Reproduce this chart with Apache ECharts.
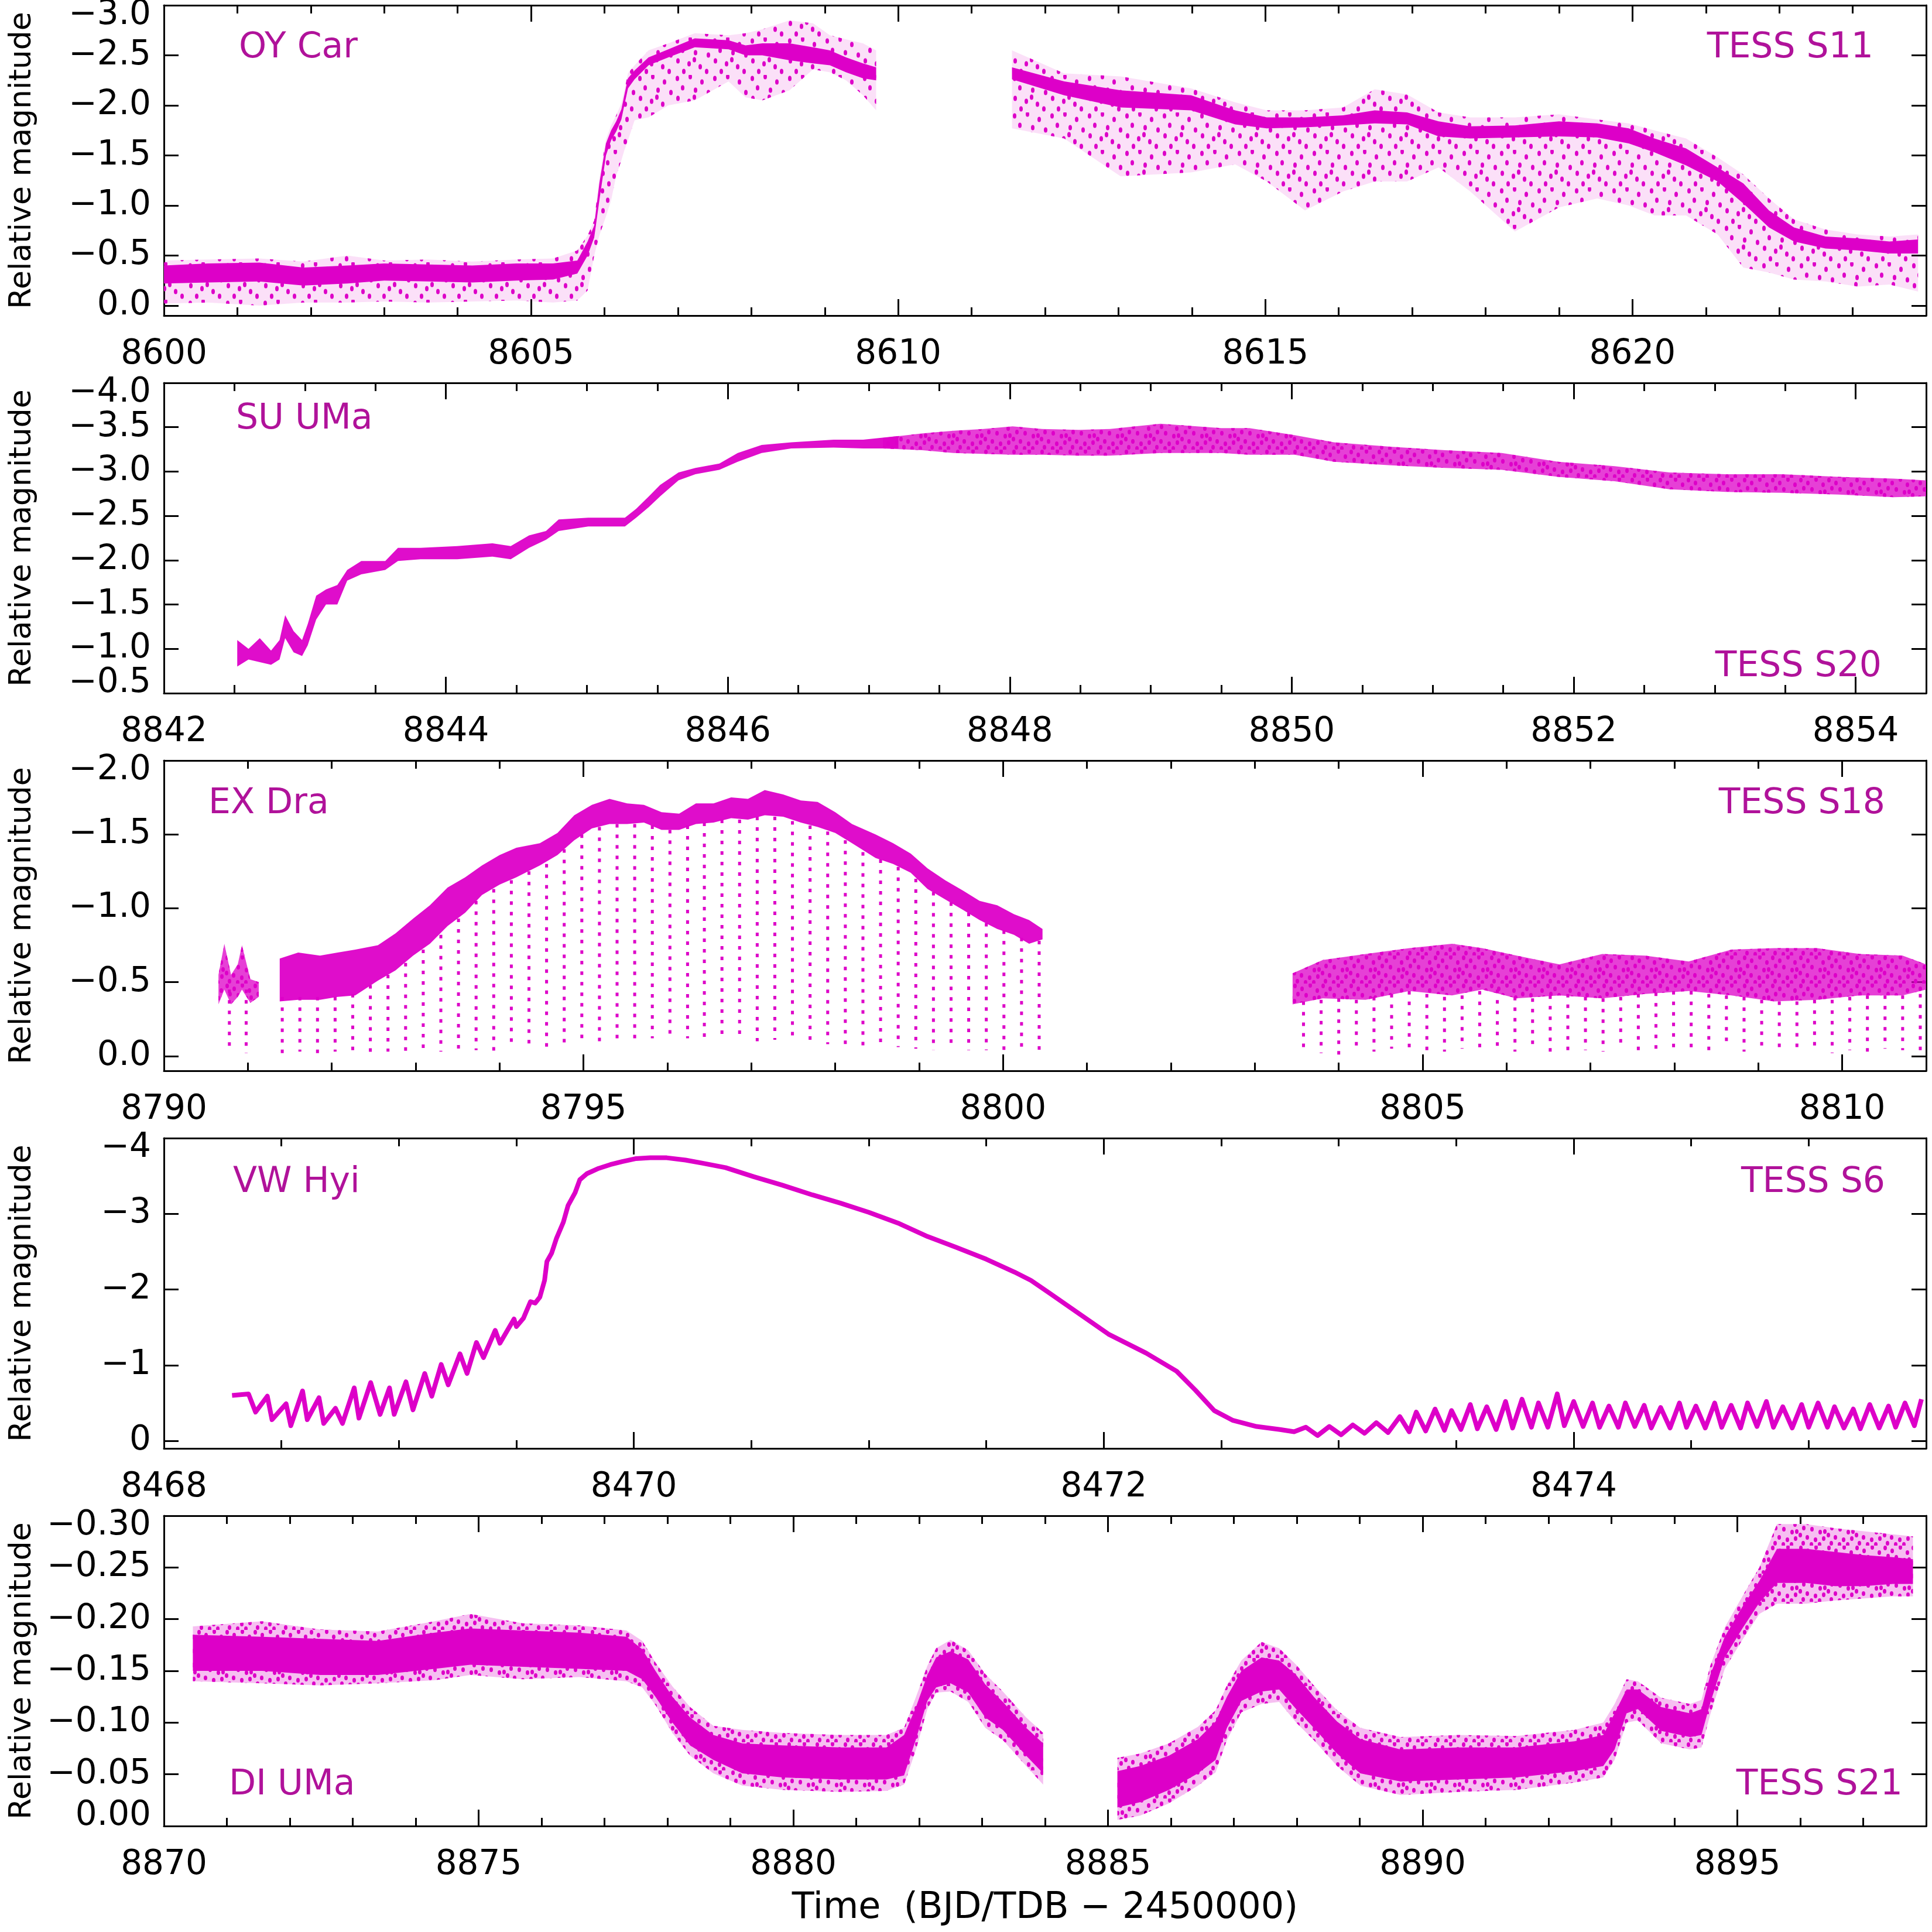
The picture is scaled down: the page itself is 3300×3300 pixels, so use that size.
<!DOCTYPE html>
<html><head><meta charset="utf-8">
<script src="https://cdn.jsdelivr.net/npm/echarts@6/dist/echarts.min.js"></script>
<style>html,body{margin:0;padding:0;background:#fff}#c{width:3300px;height:3300px}</style>
</head><body><div id="c"></div>
<script>
// ---------------- DATA ----------------
// Panel 1: OY Car (TESS S11)
const p1XMajor = [8600, 8605, 8610, 8615, 8620];
const p1XMinor = [8601, 8602, 8603, 8604, 8606, 8607, 8608, 8609, 8611, 8612, 8613, 8614, 8616, 8617, 8618, 8619, 8621, 8622, 8623];
const p1YTicks = [-3.0, -2.5, -2.0, -1.5, -1.0, -0.5, 0.0];
const p1aX = [8600.0, 8600.6, 8601.3, 8601.9, 8602.5, 8603.0, 8603.6, 8604.2, 8604.8, 8605.3, 8605.63, 8605.77, 8605.86, 8605.93, 8606.02, 8606.09, 8606.16, 8606.23, 8606.27, 8606.32, 8606.41, 8606.60, 8606.87, 8607.23, 8607.69, 8607.92, 8608.15, 8608.52, 8608.84, 8609.07, 8609.29, 8609.52, 8609.70];
const p1aCoreTop = [-0.40, -0.42, -0.43, -0.38, -0.40, -0.42, -0.41, -0.40, -0.42, -0.42, -0.45, -0.64, -0.80, -1.22, -1.62, -1.75, -1.84, -1.96, -2.10, -2.27, -2.35, -2.48, -2.56, -2.67, -2.65, -2.60, -2.62, -2.62, -2.58, -2.55, -2.48, -2.42, -2.38];
const p1aCoreBot = [-0.22, -0.23, -0.24, -0.20, -0.22, -0.25, -0.24, -0.23, -0.25, -0.26, -0.32, -0.50, -0.68, -1.05, -1.50, -1.65, -1.74, -1.86, -2.00, -2.17, -2.26, -2.40, -2.48, -2.58, -2.56, -2.50, -2.50, -2.45, -2.42, -2.40, -2.33, -2.27, -2.25];
const p1aHazeTop = [-0.45, -0.46, -0.47, -0.44, -0.50, -0.45, -0.46, -0.44, -0.46, -0.47, -0.55, -0.70, -0.85, -1.27, -1.66, -1.80, -1.90, -2.02, -2.15, -2.32, -2.40, -2.55, -2.62, -2.72, -2.70, -2.72, -2.76, -2.85, -2.82, -2.70, -2.66, -2.62, -2.55];
const p1aHazeBot = [-0.02, -0.03, 0.0, -0.03, -0.03, -0.04, -0.03, -0.04, -0.05, -0.03, -0.05, -0.15, -0.50, -0.70, -0.89, -1.05, -1.30, -1.45, -1.55, -1.65, -1.85, -1.88, -2.00, -2.05, -2.24, -2.08, -2.05, -2.15, -2.36, -2.33, -2.25, -2.10, -1.95];
const p1bX = [8611.55, 8612.26, 8613.03, 8613.99, 8614.59, 8615.02, 8615.54, 8616.06, 8616.49, 8616.93, 8617.36, 8617.79, 8618.40, 8619.00, 8619.52, 8619.95, 8620.30, 8620.73, 8621.16, 8621.51, 8621.86, 8622.20, 8622.63, 8623.07, 8623.50, 8623.89];
const p1bCoreTop = [-2.38, -2.24, -2.15, -2.10, -1.95, -1.88, -1.88, -1.90, -1.95, -1.93, -1.84, -1.79, -1.80, -1.84, -1.82, -1.77, -1.67, -1.57, -1.38, -1.22, -0.95, -0.78, -0.69, -0.67, -0.64, -0.66];
const p1bCoreBot = [-2.26, -2.10, -1.98, -1.95, -1.81, -1.77, -1.78, -1.80, -1.82, -1.81, -1.69, -1.67, -1.68, -1.69, -1.68, -1.62, -1.53, -1.40, -1.24, -1.02, -0.78, -0.64, -0.57, -0.55, -0.52, -0.52];
const p1bHazeTop = [-2.55, -2.32, -2.29, -2.17, -2.03, -1.95, -1.95, -1.98, -2.16, -2.11, -1.93, -1.88, -1.88, -1.91, -1.86, -1.82, -1.75, -1.67, -1.48, -1.31, -1.07, -0.86, -0.76, -0.71, -0.69, -0.71];
const p1bHazeBot = [-1.77, -1.67, -1.29, -1.33, -1.41, -1.24, -0.95, -1.14, -1.24, -1.24, -1.38, -1.14, -0.74, -0.98, -1.07, -1.00, -0.90, -0.90, -0.71, -0.38, -0.33, -0.26, -0.24, -0.19, -0.21, -0.14];

// Panel 2: SU UMa (TESS S20)
const p2XMajor = [8842, 8844, 8846, 8848, 8850, 8852, 8854];
const p2XMinor = [8842.5, 8843, 8843.5, 8844.5, 8845, 8845.5, 8846.5, 8847, 8847.5, 8848.5, 8849, 8849.5, 8850.5, 8851, 8851.5, 8852.5, 8853, 8853.5];
const p2YTicks = [-4.0, -3.5, -3.0, -2.5, -2.0, -1.5, -1.0, -0.5];
const p2rX = [8842.52, 8842.60, 8842.68, 8842.76, 8842.82, 8842.86, 8842.92, 8842.98, 8843.02, 8843.08, 8843.15, 8843.23, 8843.30, 8843.40, 8843.57, 8843.66, 8843.82, 8844.08, 8844.33, 8844.46, 8844.59, 8844.71, 8844.80, 8845.01, 8845.27, 8845.35, 8845.44, 8845.52, 8845.65, 8845.77, 8845.94, 8846.07, 8846.24, 8846.45, 8846.75, 8846.96, 8847.21];
const p2rTop = [-1.10, -1.00, -1.12, -0.98, -1.10, -1.38, -1.20, -1.10, -1.28, -1.60, -1.67, -1.72, -1.89, -1.99, -1.99, -2.14, -2.14, -2.16, -2.19, -2.16, -2.28, -2.33, -2.46, -2.48, -2.48, -2.58, -2.72, -2.85, -2.99, -3.04, -3.09, -3.21, -3.30, -3.33, -3.36, -3.36, -3.40];
const p2rBot = [-0.80, -0.88, -0.85, -0.82, -0.88, -1.12, -0.96, -0.92, -1.04, -1.33, -1.50, -1.50, -1.77, -1.84, -1.89, -1.99, -2.01, -2.01, -2.04, -2.01, -2.14, -2.23, -2.33, -2.38, -2.38, -2.48, -2.60, -2.72, -2.90, -2.97, -3.02, -3.11, -3.21, -3.26, -3.27, -3.26, -3.26];
const p2hX = [8847.10, 8847.38, 8847.60, 8847.81, 8848.02, 8848.23, 8848.49, 8848.71, 8849.07, 8849.50, 8849.70, 8850.02, 8850.30, 8850.70, 8851.09, 8851.49, 8851.89, 8852.29, 8852.68, 8853.08, 8853.48, 8853.88, 8854.27, 8854.50];
const p2hTop = [-3.38, -3.43, -3.46, -3.48, -3.51, -3.48, -3.47, -3.48, -3.54, -3.49, -3.49, -3.41, -3.33, -3.28, -3.24, -3.21, -3.11, -3.06, -2.99, -2.97, -2.97, -2.94, -2.92, -2.90];
const p2hBot = [-3.26, -3.24, -3.21, -3.20, -3.19, -3.19, -3.18, -3.18, -3.21, -3.21, -3.19, -3.19, -3.11, -3.07, -3.04, -3.02, -2.94, -2.89, -2.80, -2.77, -2.76, -2.74, -2.71, -2.72];

// Panel 3: EX Dra (TESS S18)
const p3XMajor = [8790, 8795, 8800, 8805, 8810];
const p3XMinor = [8791, 8792, 8793, 8794, 8796, 8797, 8798, 8799, 8801, 8802, 8803, 8804, 8806, 8807, 8808, 8809];
const p3YTicks = [-2.0, -1.5, -1.0, -0.5, 0.0];
const p3aX = [8790.65, 8790.72, 8790.80, 8790.88, 8790.93, 8791.03, 8791.13];
const p3aTop = [-0.55, -0.76, -0.55, -0.62, -0.75, -0.52, -0.50];
const p3aBot = [-0.35, -0.45, -0.35, -0.40, -0.45, -0.36, -0.40];
const p3bX = [8791.38, 8791.60, 8791.86, 8792.07, 8792.28, 8792.55, 8792.76, 8792.97, 8793.17, 8793.38, 8793.59, 8793.79, 8794.00, 8794.20, 8794.48, 8794.69, 8794.89, 8795.10, 8795.31, 8795.52, 8795.72, 8795.93, 8796.14, 8796.34, 8796.55, 8796.76, 8796.96, 8797.16, 8797.38, 8797.59, 8797.79, 8798.00, 8798.20, 8798.48, 8798.69, 8798.90, 8799.10, 8799.31, 8799.52, 8799.72, 8799.93, 8800.13, 8800.31, 8800.47];
const p3bTop = [-0.66, -0.70, -0.68, -0.70, -0.72, -0.75, -0.83, -0.93, -1.02, -1.14, -1.21, -1.29, -1.36, -1.41, -1.44, -1.51, -1.63, -1.70, -1.74, -1.71, -1.70, -1.65, -1.64, -1.71, -1.71, -1.75, -1.74, -1.80, -1.77, -1.73, -1.72, -1.65, -1.57, -1.50, -1.44, -1.37, -1.27, -1.19, -1.12, -1.05, -1.02, -0.96, -0.92, -0.86];
const p3bBot = [-0.37, -0.38, -0.38, -0.40, -0.41, -0.51, -0.58, -0.68, -0.76, -0.88, -0.97, -1.09, -1.16, -1.21, -1.29, -1.36, -1.46, -1.54, -1.57, -1.57, -1.58, -1.53, -1.53, -1.57, -1.58, -1.61, -1.60, -1.63, -1.62, -1.58, -1.55, -1.51, -1.44, -1.34, -1.30, -1.24, -1.13, -1.06, -0.99, -0.92, -0.86, -0.82, -0.76, -0.79];
const p3cX = [8803.45, 8803.81, 8804.32, 8804.84, 8805.35, 8805.71, 8806.12, 8806.63, 8807.14, 8807.65, 8808.17, 8808.68, 8809.19, 8809.70, 8810.21, 8810.72, 8811.00];
const p3cTop = [-0.56, -0.65, -0.69, -0.73, -0.76, -0.73, -0.68, -0.62, -0.69, -0.68, -0.64, -0.72, -0.73, -0.73, -0.69, -0.68, -0.62];
const p3cBot = [-0.35, -0.39, -0.38, -0.44, -0.41, -0.45, -0.39, -0.41, -0.39, -0.42, -0.44, -0.41, -0.37, -0.38, -0.41, -0.41, -0.45];
const p3EclT = [8790.78, 8790.98,
  8791.41, 8791.62, 8791.83, 8792.04, 8792.25, 8792.46, 8792.67, 8792.88, 8793.09, 8793.30, 8793.51, 8793.72, 8793.93, 8794.14, 8794.35, 8794.56, 8794.77, 8794.98, 8795.19, 8795.40, 8795.61, 8795.82, 8796.03, 8796.24, 8796.44, 8796.65, 8796.86, 8797.07, 8797.28, 8797.49, 8797.70, 8797.91, 8798.12, 8798.33, 8798.54, 8798.75, 8798.96, 8799.17, 8799.38, 8799.59, 8799.80, 8800.01, 8800.22, 8800.43,
  8803.58, 8803.79, 8804.00, 8804.21, 8804.42, 8804.63, 8804.84, 8805.05, 8805.26, 8805.47, 8805.68, 8805.89, 8806.10, 8806.31, 8806.52, 8806.73, 8806.94, 8807.15, 8807.36, 8807.57, 8807.78, 8807.99, 8808.20, 8808.41, 8808.62, 8808.83, 8809.04, 8809.25, 8809.46, 8809.67, 8809.88, 8810.09, 8810.30, 8810.51, 8810.72, 8810.93];
const p3EclTop = [-0.45, -0.45,
  -0.40, -0.40, -0.40, -0.40, -0.42, -0.48, -0.55, -0.63, -0.72, -0.82, -0.93, -1.05, -1.13, -1.19, -1.25, -1.30, -1.40, -1.50, -1.55, -1.57, -1.57, -1.56, -1.53, -1.56, -1.58, -1.60, -1.60, -1.62, -1.62, -1.59, -1.56, -1.52, -1.46, -1.38, -1.33, -1.28, -1.20, -1.11, -1.04, -0.97, -0.90, -0.85, -0.80, -0.78,
  -0.37, -0.38, -0.39, -0.38, -0.40, -0.42, -0.44, -0.42, -0.40, -0.41, -0.44, -0.45, -0.40, -0.39, -0.41, -0.42, -0.40, -0.39, -0.40, -0.42, -0.43, -0.44, -0.44, -0.42, -0.41, -0.40, -0.38, -0.37, -0.37, -0.38, -0.38, -0.40, -0.41, -0.41, -0.41, -0.42];
const p3EclMin = [-0.04, -0.02,
  -0.01, -0.03, -0.02, -0.03, -0.03, -0.02, -0.03, -0.02, -0.02, -0.03, -0.03, -0.04, -0.03, -0.05, -0.05, -0.06, -0.06, -0.08, -0.08, -0.11, -0.11, -0.12, -0.12, -0.12, -0.12, -0.14, -0.12, -0.10, -0.11, -0.10, -0.10, -0.08, -0.08, -0.07, -0.07, -0.06, -0.05, -0.04, -0.06, -0.04, -0.04, -0.02, -0.05, -0.03,
  -0.04, -0.02, -0.01, -0.04, -0.03, -0.05, -0.02, -0.04, -0.03, -0.05, -0.02, -0.04, -0.03, -0.05, -0.01, -0.03, -0.04, -0.03, -0.05, -0.03, -0.04, -0.05, -0.02, -0.04, -0.06, -0.03, -0.04, -0.02, -0.03, -0.05, -0.02, -0.04, -0.03, -0.05, -0.04, -0.03];

// Panel 4: VW Hyi (TESS S6)
const p4XMajor = [8468, 8470, 8472, 8474];
const p4XMinor = [8468.5, 8469, 8469.5, 8470.5, 8471, 8471.5, 8472.5, 8473, 8473.5, 8474.5, 8475];
const p4YTicks = [-4, -3, -2, -1, 0];
const p4X = [8468.29, 8468.36, 8468.39, 8468.44, 8468.46, 8468.52, 8468.54, 8468.59, 8468.61, 8468.66, 8468.68, 8468.73, 8468.76, 8468.81, 8468.83, 8468.88, 8468.92, 8468.96, 8468.98, 8469.03, 8469.06, 8469.11, 8469.14, 8469.18, 8469.21, 8469.26, 8469.29, 8469.33, 8469.36, 8469.41, 8469.43, 8469.49, 8469.50, 8469.53, 8469.56, 8469.58, 8469.60, 8469.62, 8469.63, 8469.65, 8469.67, 8469.70, 8469.72, 8469.75, 8469.77, 8469.80, 8469.85, 8469.90, 8469.95, 8470.01, 8470.07, 8470.14, 8470.22, 8470.29, 8470.39, 8470.51, 8470.63, 8470.76, 8470.88, 8471.00, 8471.13, 8471.25, 8471.37, 8471.50, 8471.62, 8471.69, 8471.77, 8472.02, 8472.18, 8472.31, 8472.39, 8472.47, 8472.55, 8472.65, 8472.75, 8472.81, 8472.86, 8472.91, 8472.96, 8473.01, 8473.06, 8473.11, 8473.16, 8473.21,
  8473.26, 8473.30, 8473.33, 8473.37, 8473.41, 8473.45, 8473.48, 8473.52, 8473.56, 8473.59, 8473.63, 8473.67, 8473.71, 8473.74, 8473.78, 8473.82, 8473.85, 8473.89, 8473.93, 8473.96, 8474.00, 8474.04, 8474.08, 8474.11, 8474.15, 8474.19, 8474.22, 8474.26, 8474.30, 8474.33, 8474.37, 8474.41, 8474.45, 8474.48, 8474.52, 8474.56, 8474.60, 8474.63, 8474.67, 8474.71, 8474.74, 8474.78, 8474.82, 8474.85, 8474.89, 8474.93, 8474.97, 8475.00, 8475.04, 8475.08, 8475.11, 8475.15, 8475.19, 8475.22, 8475.26, 8475.30, 8475.34, 8475.37, 8475.41, 8475.45, 8475.48];
const p4Y = [-0.60, -0.62, -0.38, -0.59, -0.28, -0.49, -0.20, -0.66, -0.28, -0.57, -0.23, -0.43, -0.23, -0.70, -0.30, -0.77, -0.35, -0.70, -0.35, -0.78, -0.41, -0.89, -0.59, -1.01, -0.74, -1.15, -0.89, -1.30, -1.10, -1.46, -1.29, -1.61, -1.51, -1.62, -1.84, -1.82, -1.90, -2.12, -2.37, -2.48, -2.67, -2.89, -3.11, -3.28, -3.45, -3.53, -3.60, -3.65, -3.69, -3.73, -3.74, -3.74, -3.71, -3.67, -3.61, -3.49, -3.38, -3.25, -3.14, -3.02, -2.87, -2.70, -2.56, -2.40, -2.23, -2.12, -1.95, -1.41, -1.16, -0.92, -0.67, -0.40, -0.27, -0.19, -0.15, -0.12, -0.18, -0.07, -0.19, -0.08, -0.21, -0.10, -0.24, -0.11,
  -0.32, -0.12, -0.38, -0.13, -0.42, -0.14, -0.40, -0.15, -0.48, -0.16, -0.45, -0.15, -0.52, -0.17, -0.55, -0.18, -0.50, -0.18, -0.62, -0.20, -0.52, -0.19, -0.50, -0.18, -0.46, -0.18, -0.50, -0.19, -0.47, -0.17, -0.44, -0.17, -0.50, -0.18, -0.46, -0.17, -0.50, -0.18, -0.47, -0.17, -0.50, -0.19, -0.52, -0.18, -0.45, -0.17, -0.48, -0.18, -0.50, -0.18, -0.45, -0.17, -0.42, -0.16, -0.48, -0.17, -0.46, -0.18, -0.50, -0.20, -0.55];

// Panel 5: DI UMa (TESS S21)
const p5XMajor = [8870, 8875, 8880, 8885, 8890, 8895];
const p5XMinor = [8871, 8872, 8873, 8874, 8876, 8877, 8878, 8879, 8881, 8882, 8883, 8884, 8886, 8887, 8888, 8889, 8891, 8892, 8893, 8894, 8896, 8897];
const p5YTicks = [-0.30, -0.25, -0.20, -0.15, -0.10, -0.05, 0.00];
const p5aX = [8870.46, 8871.56, 8872.48, 8873.40, 8874.30, 8874.87, 8875.70, 8876.60, 8877.35, 8877.60, 8877.81, 8878.08, 8878.36, 8878.73, 8879.19, 8879.83, 8880.75, 8881.48, 8881.76, 8881.95, 8882.13, 8882.27, 8882.50, 8882.78, 8883.05, 8883.33, 8883.70, 8883.97];
const p5aCoreTop = [-0.185, -0.183, -0.181, -0.179, -0.187, -0.191, -0.189, -0.187, -0.183, -0.171, -0.150, -0.125, -0.105, -0.088, -0.080, -0.078, -0.076, -0.076, -0.088, -0.115, -0.146, -0.163, -0.169, -0.161, -0.137, -0.120, -0.095, -0.080];
const p5aCoreBot = [-0.150, -0.150, -0.146, -0.146, -0.152, -0.156, -0.154, -0.152, -0.150, -0.142, -0.125, -0.100, -0.078, -0.064, -0.051, -0.047, -0.045, -0.045, -0.049, -0.084, -0.121, -0.134, -0.138, -0.129, -0.105, -0.093, -0.068, -0.051];
const p5aHazeTop = [-0.193, -0.198, -0.190, -0.188, -0.198, -0.205, -0.196, -0.194, -0.189, -0.179, -0.158, -0.135, -0.115, -0.097, -0.093, -0.090, -0.088, -0.088, -0.095, -0.125, -0.155, -0.172, -0.180, -0.170, -0.147, -0.130, -0.105, -0.090];
const p5aHazeBot = [-0.140, -0.138, -0.136, -0.138, -0.141, -0.146, -0.142, -0.144, -0.140, -0.134, -0.117, -0.090, -0.068, -0.051, -0.039, -0.035, -0.033, -0.034, -0.040, -0.074, -0.113, -0.129, -0.130, -0.120, -0.095, -0.083, -0.058, -0.040];
const p5bX = [8885.15, 8885.51, 8885.97, 8886.43, 8886.71, 8886.89, 8887.12, 8887.44, 8887.72, 8887.99, 8888.27, 8888.64, 8889.01, 8889.65, 8890.57, 8891.49, 8892.41, 8892.87, 8893.05, 8893.24, 8893.42, 8893.79, 8894.25, 8894.43, 8894.57, 8894.80, 8895.08, 8895.35, 8895.63, 8896.09, 8896.55, 8897.01, 8897.47, 8897.79];
const p5bCoreTop = [-0.053, -0.058, -0.068, -0.084, -0.101, -0.125, -0.150, -0.163, -0.160, -0.146, -0.125, -0.101, -0.084, -0.074, -0.076, -0.076, -0.082, -0.088, -0.109, -0.132, -0.132, -0.115, -0.109, -0.113, -0.146, -0.183, -0.212, -0.237, -0.268, -0.268, -0.265, -0.262, -0.260, -0.258];
const p5bCoreBot = [-0.018, -0.023, -0.035, -0.051, -0.064, -0.095, -0.121, -0.130, -0.132, -0.113, -0.095, -0.070, -0.051, -0.043, -0.045, -0.047, -0.053, -0.058, -0.074, -0.109, -0.113, -0.092, -0.086, -0.088, -0.119, -0.163, -0.191, -0.216, -0.235, -0.235, -0.232, -0.232, -0.234, -0.234];
const p5bHazeTop = [-0.066, -0.070, -0.080, -0.096, -0.112, -0.136, -0.160, -0.178, -0.172, -0.156, -0.136, -0.112, -0.095, -0.086, -0.088, -0.087, -0.093, -0.100, -0.118, -0.142, -0.140, -0.124, -0.118, -0.122, -0.155, -0.192, -0.222, -0.250, -0.292, -0.292, -0.288, -0.285, -0.282, -0.280];
const p5bHazeBot = [-0.006, -0.010, -0.022, -0.039, -0.052, -0.083, -0.110, -0.118, -0.120, -0.100, -0.083, -0.058, -0.039, -0.030, -0.033, -0.035, -0.042, -0.047, -0.064, -0.100, -0.102, -0.080, -0.074, -0.076, -0.108, -0.152, -0.180, -0.205, -0.215, -0.215, -0.218, -0.220, -0.222, -0.222];

const starNames = ['OY Car', 'SU UMa', 'EX Dra', 'VW Hyi', 'DI UMa'];
const sectorNames = ['TESS S11', 'TESS S20', 'TESS S18', 'TESS S6', 'TESS S21'];
const yTitle = 'Relative magnitude';
const xTitle = 'Time  (BJD/TDB \u2212 2450000)';

// ---------------- STYLE / LAYOUT ----------------
const DOT = '#dd00c8';
const NAMECOL = '#b0129a';
const FONT = '"DejaVu Sans", "Liberation Sans", sans-serif';
const GRID_LEFT = 280, GRID_W = 3010, GRID_H = 530;
const GRID_TOP = [9, 654, 1299, 1944, 2589];

const panels = [
  {xMin: 8600, xMax: 8624, xMajor: p1XMajor, xMinor: p1XMinor, yMin: -3.0, yMax: 0.1, yTicks: p1YTicks, dec: 1, maxBottom: false},
  {xMin: 8842, xMax: 8854.5, xMajor: p2XMajor, xMinor: p2XMinor, yMin: -4.0, yMax: -0.5, yTicks: p2YTicks, dec: 1, maxBottom: true},
  {xMin: 8790, xMax: 8811, xMajor: p3XMajor, xMinor: p3XMinor, yMin: -2.0, yMax: 0.1, yTicks: p3YTicks, dec: 1, maxBottom: false},
  {xMin: 8468, xMax: 8475.5, xMajor: p4XMajor, xMinor: p4XMinor, yMin: -4, yMax: 0.1, yTicks: p4YTicks, dec: 0, maxBottom: false},
  {xMin: 8870, xMax: 8898, xMajor: p5XMajor, xMinor: p5XMinor, yMin: -0.30, yMax: 0.0, yTicks: p5YTicks, dec: 2, maxBottom: true}
];

// name label placement (px)
const namePos = [
  {lx: 408, ly: 82, rx: 3200, ry: 82},
  {lx: 403, ly: 716, rx: 3214, ry: 1139},
  {lx: 356, ly: 1373, rx: 3220, ry: 1373},
  {lx: 398, ly: 2020, rx: 3220, ry: 2020},
  {lx: 391, ly: 3049, rx: 3250, ry: 3049}
];

function fmt(dec) {
  return function (v) {
    var s = Math.abs(v).toFixed(dec);
    return (v < -1e-9 ? '\u2212' : '') + s;
  };
}

// dotted texture used to render sparse scattered points (eclipse points / noise)
function dotTexture(size, dots, rx, ry) {
  var c = document.createElement('canvas');
  c.width = size; c.height = size;
  var g = c.getContext('2d');
  g.fillStyle = DOT;
  dots.forEach(function (d) {
    g.beginPath(); g.ellipse(d[0], d[1], rx, ry, 0, 0, Math.PI * 2); g.fill();
  });
  return c;
}
const sparseTex = dotTexture(64, [[5, 6], [27, 3], [47, 12], [14, 22], [36, 26], [58, 30], [6, 40], [25, 45], [44, 50], [55, 58], [16, 58], [34, 38]], 3, 4.5);
const denseTex = dotTexture(48, [[4, 4], [16, 9], [30, 3], [42, 12], [9, 18], [23, 20], [37, 25], [3, 30], [15, 34], [29, 38], [43, 36], [8, 44], [22, 46], [36, 46], [45, 24]], 3, 4);

const LINE = {color: '#000', width: 3};
const grids = [], xAxes = [], yAxes = [];
panels.forEach(function (p, i) {
  grids.push({left: GRID_LEFT, width: GRID_W, top: GRID_TOP[i], height: GRID_H, containLabel: false, outerBoundsMode: 'none', show: false});
  function xa(extra) {
    return Object.assign({type: 'value', gridIndex: i, min: p.xMin, max: p.xMax, splitLine: {show: false}, axisPointer: {show: false}}, extra);
  }
  xAxes.push(xa({
    position: 'bottom',
    axisLine: {show: true, onZero: false, lineStyle: LINE},
    axisTick: {show: true, inside: true, length: 28, lineStyle: LINE, customValues: p.xMajor},
    axisLabel: {show: true, customValues: p.xMajor, margin: 38, fontSize: 58, fontFamily: FONT, color: '#000',
      showMinLabel: true, showMaxLabel: true, formatter: function (v) { return String(v); }},
    name: i === 4 ? xTitle : '', nameLocation: 'middle', nameGap: 110,
    nameTextStyle: {fontSize: 62, fontFamily: FONT, color: '#000'}
  }));
  xAxes.push(xa({
    position: 'bottom',
    axisLine: {show: false, onZero: false},
    axisTick: {show: true, inside: true, length: 14, lineStyle: LINE, customValues: p.xMinor},
    axisLabel: {show: false}
  }));
  xAxes.push(xa({
    position: 'top',
    axisLine: {show: true, onZero: false, lineStyle: LINE},
    axisTick: {show: true, inside: true, length: 28, lineStyle: LINE, customValues: p.xMajor},
    axisLabel: {show: false}
  }));
  xAxes.push(xa({
    position: 'top',
    axisLine: {show: false, onZero: false},
    axisTick: {show: true, inside: true, length: 14, lineStyle: LINE, customValues: p.xMinor},
    axisLabel: {show: false}
  }));
  var lab = {show: true, customValues: p.yTicks, margin: 22, fontSize: 58, lineHeight: 34, fontFamily: FONT, color: '#000',
    showMinLabel: true, showMaxLabel: true, hideOverlap: false,
    formatter: fmt(p.dec), verticalAlignMinLabel: 'top'};
  if (p.maxBottom) lab.verticalAlignMaxLabel = 'bottom';
  yAxes.push({
    type: 'value', gridIndex: i, min: p.yMin, max: p.yMax, inverse: true, position: 'left',
    splitLine: {show: false}, axisPointer: {show: false},
    axisLine: {show: true, onZero: false, lineStyle: LINE},
    axisTick: {show: true, inside: true, length: 25, lineStyle: LINE, customValues: p.yTicks},
    axisLabel: lab,
    name: yTitle, nameLocation: 'middle', nameGap: 216,
    nameTextStyle: {fontSize: 52, fontFamily: FONT, color: '#000'}
  });
  yAxes.push({
    type: 'value', gridIndex: i, min: p.yMin, max: p.yMax, inverse: true, position: 'right',
    splitLine: {show: false}, axisPointer: {show: false},
    axisLine: {show: true, onZero: false, lineStyle: LINE},
    axisTick: {show: true, inside: true, length: 25, lineStyle: LINE, customValues: p.yTicks},
    axisLabel: {show: false}
  });
});

function band(gi, xs, top, bot, fill, opacity) {
  return {
    type: 'custom', xAxisIndex: gi * 4, yAxisIndex: gi * 2, silent: true, clip: true,
    data: xs.map(function (x, k) { return [x, top[k], bot[k]]; }),
    encode: {x: 0, y: [1, 2]},
    renderItem: function (params, api) {
      if (params.dataIndex !== 0) return null;
      var pts = [], k;
      for (k = 0; k < xs.length; k++) pts.push(api.coord([xs[k], top[k]]));
      for (k = xs.length - 1; k >= 0; k--) pts.push(api.coord([xs[k], bot[k]]));
      return {type: 'polygon', shape: {points: pts}, style: {fill: fill, opacity: opacity}};
    }
  };
}

function eclipses(gi, ts, tops, mins) {
  return {
    type: 'custom', xAxisIndex: gi * 4, yAxisIndex: gi * 2, silent: true, clip: true,
    data: ts.map(function (t, k) { return [t, tops[k], mins[k]]; }),
    encode: {x: 0, y: [1, 2]},
    renderItem: function (params, api) {
      var a = api.coord([api.value(0), api.value(1)]);
      var b = api.coord([api.value(0), api.value(2)]);
      return {type: 'line', shape: {x1: a[0], y1: a[1], x2: b[0], y2: b[1]},
        style: {stroke: DOT, lineWidth: 5, lineDash: [6, 12]}};
    }
  };
}

const SPARSE = {image: sparseTex, repeat: 'repeat'};
const DENSE = {image: denseTex, repeat: 'repeat'};

const series = [
  band(0, p1aX, p1aHazeTop, p1aHazeBot, DOT, 0.12),
  band(0, p1aX, p1aHazeTop, p1aHazeBot, SPARSE, 1),
  band(0, p1aX, p1aCoreTop, p1aCoreBot, DOT, 1),
  band(0, p1bX, p1bHazeTop, p1bHazeBot, DOT, 0.12),
  band(0, p1bX, p1bHazeTop, p1bHazeBot, SPARSE, 1),
  band(0, p1bX, p1bCoreTop, p1bCoreBot, DOT, 1),
  band(1, p2rX, p2rTop, p2rBot, DOT, 0.95),
  band(1, p2hX, p2hTop, p2hBot, DOT, 0.75),
  band(1, p2hX, p2hTop, p2hBot, DENSE, 1),
  eclipses(2, p3EclT, p3EclTop, p3EclMin),
  band(2, p3aX, p3aTop, p3aBot, DOT, 0.75),
  band(2, p3aX, p3aTop, p3aBot, DENSE, 1),
  band(2, p3bX, p3bTop, p3bBot, DOT, 0.95),
  band(2, p3cX, p3cTop, p3cBot, DOT, 0.75),
  band(2, p3cX, p3cTop, p3cBot, DENSE, 1),
  {type: 'line', xAxisIndex: 12, yAxisIndex: 6, symbol: 'none', silent: true,
   data: p4X.map(function (x, k) { return [x, p4Y[k]]; }),
   lineStyle: {color: DOT, width: 8, join: 'round'}},
  band(4, p5aX, p5aHazeTop, p5aHazeBot, DOT, 0.25),
  band(4, p5aX, p5aHazeTop, p5aHazeBot, DENSE, 1),
  band(4, p5aX, p5aCoreTop, p5aCoreBot, DOT, 1),
  band(4, p5bX, p5bHazeTop, p5bHazeBot, DOT, 0.25),
  band(4, p5bX, p5bHazeTop, p5bHazeBot, DENSE, 1),
  band(4, p5bX, p5bCoreTop, p5bCoreBot, DOT, 1)
];

const graphics = [];
namePos.forEach(function (q, i) {
  graphics.push({type: 'text', x: q.lx, y: q.ly, silent: true,
    style: {text: starNames[i], fill: NAMECOL, fontSize: 60, fontFamily: FONT, align: 'left', verticalAlign: 'middle'}});
  graphics.push({type: 'text', x: q.rx, y: q.ry, silent: true,
    style: {text: sectorNames[i], fill: NAMECOL, fontSize: 60, fontFamily: FONT, align: 'right', verticalAlign: 'middle'}});
});

const chart = echarts.init(document.getElementById('c'), null, {renderer: 'canvas', width: 3300, height: 3300});
chart.setOption({
  backgroundColor: '#ffffff',
  animation: false,
  textStyle: {fontFamily: FONT},
  grid: grids,
  xAxis: xAxes,
  yAxis: yAxes,
  series: series,
  graphic: graphics
});
</script>
</body></html>
